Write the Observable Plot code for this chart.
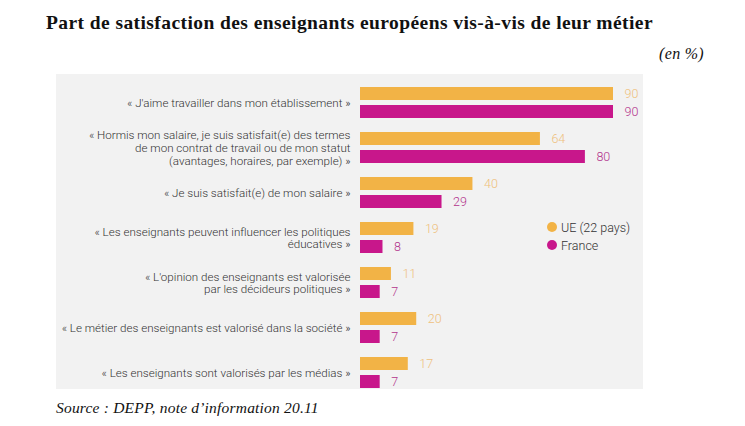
<!DOCTYPE html>
<html>
<head>
<meta charset="utf-8">
<script src="https://cdn.jsdelivr.net/npm/d3@7"></script>
<script src="https://cdn.jsdelivr.net/npm/@observablehq/plot@0.6"></script>
<style>
  html, body { margin: 0; padding: 0; background: #fff; }
  #wrap { position: relative; width: 745px; height: 426px; overflow: hidden; }
  #title { position: absolute; left: 46px; top: 13px; font: bold 19.5px "Liberation Serif", serif; letter-spacing: 0.42px; line-height: 1; color: #111; white-space: nowrap; }
  #unit { position: absolute; right: 41px; top: 46px; font: italic 16px "Liberation Serif", serif; letter-spacing: 0.3px; line-height: 1; color: #111; }
  #chart { position: absolute; left: 56px; top: 74px; }
  #legend { position: absolute; left: 547px; top: 218px; font: 300 12.5px Roboto, sans-serif; color: #333; }
  #legend div { display: flex; align-items: center; height: 18px; }
  #legend span.dot { width: 10px; height: 10px; border-radius: 50%; margin-right: 4px; display: inline-block; }
  #source { position: absolute; left: 56px; top: 400px; font: italic 15.5px "Liberation Serif", serif; letter-spacing: 0.2px; line-height: 1; color: #111; white-space: nowrap; }
</style>
</head>
<body>
<div id="wrap">
  <div id="title">Part de satisfaction des enseignants européens vis-à-vis de leur métier</div>
  <div id="unit">(en %)</div>
  <div id="chart"></div>
  <div id="legend"></div>
  <div id="source">Source : DEPP, note d’information 20.11</div>
</div>
<script>
const categories = [
  "« J'aime travailler dans mon établissement »",
  "« Hormis mon salaire, je suis satisfait(e) des termes\nde mon contrat de travail ou de mon statut\n(avantages, horaires, par exemple) »",
  "« Je suis satisfait(e) de mon salaire »",
  "« Les enseignants peuvent influencer les politiques\néducatives »",
  "« L'opinion des enseignants est valorisée\npar les décideurs politiques »",
  "« Le métier des enseignants est valorisé dans la société »",
  "« Les enseignants sont valorisés par les médias »"
];
const series = ["UE (22 pays)", "France"];
const ueValues = [90, 64, 40, 19, 11, 20, 17];
const franceValues = [90, 80, 29, 8, 7, 7, 7];
const barColors = ["#F2B346", "#C8178B"];
const labelColors = ["#EFC07C", "#B3348D"];

const data = [];
categories.forEach((c, i) => {
  data.push({category: c, series: series[0], value: ueValues[i]});
  data.push({category: c, series: series[1], value: franceValues[i]});
});

const chart = Plot.plot({
  width: 587,
  height: 315,
  marginLeft: 304,
  marginRight: 30,
  marginTop: 11,
  marginBottom: 0,
  style: {background: "#F2F2F2", fontFamily: "Roboto, sans-serif", overflow: "visible"},
  x: {domain: [0, 90], axis: null},
  y: {domain: series, axis: null, paddingInner: 0.263, paddingOuter: 0},
  fy: {domain: categories, axis: null, paddingInner: 0.27, paddingOuter: 0},
  facet: {marginTop: 0, marginBottom: 0, marginLeft: 0, marginRight: 0},
  color: {domain: series, range: barColors},
  marks: [
    Plot.barX(data, {x: "value", y: "series", fy: "category", fill: "series"}),
    Plot.text(data.filter(d => d.series === series[0]), {
      x: "value", y: "series", fy: "category", text: d => String(d.value),
      dx: 11, textAnchor: "start", fill: labelColors[0], fontSize: 12.5, fontWeight: 300
    }),
    Plot.text(data.filter(d => d.series === series[1]), {
      x: "value", y: "series", fy: "category", text: d => String(d.value),
      dx: 11, textAnchor: "start", fill: labelColors[1], fontSize: 12.5, fontWeight: 300
    }),
    Plot.text(categories, {
      fy: d => d, text: d => d, frameAnchor: "left", textAnchor: "end", dx: -10,
      fontSize: 11.6, fontWeight: 300, fill: "#333", lineHeight: 1.09
    })
  ]
});
document.getElementById("chart").appendChild(chart);

const legend = document.getElementById("legend");
series.forEach((s, i) => {
  const row = document.createElement("div");
  const dot = document.createElement("span");
  dot.className = "dot";
  dot.style.background = barColors[i];
  row.appendChild(dot);
  row.appendChild(document.createTextNode(s));
  legend.appendChild(row);
});
</script>
</body>
</html>
